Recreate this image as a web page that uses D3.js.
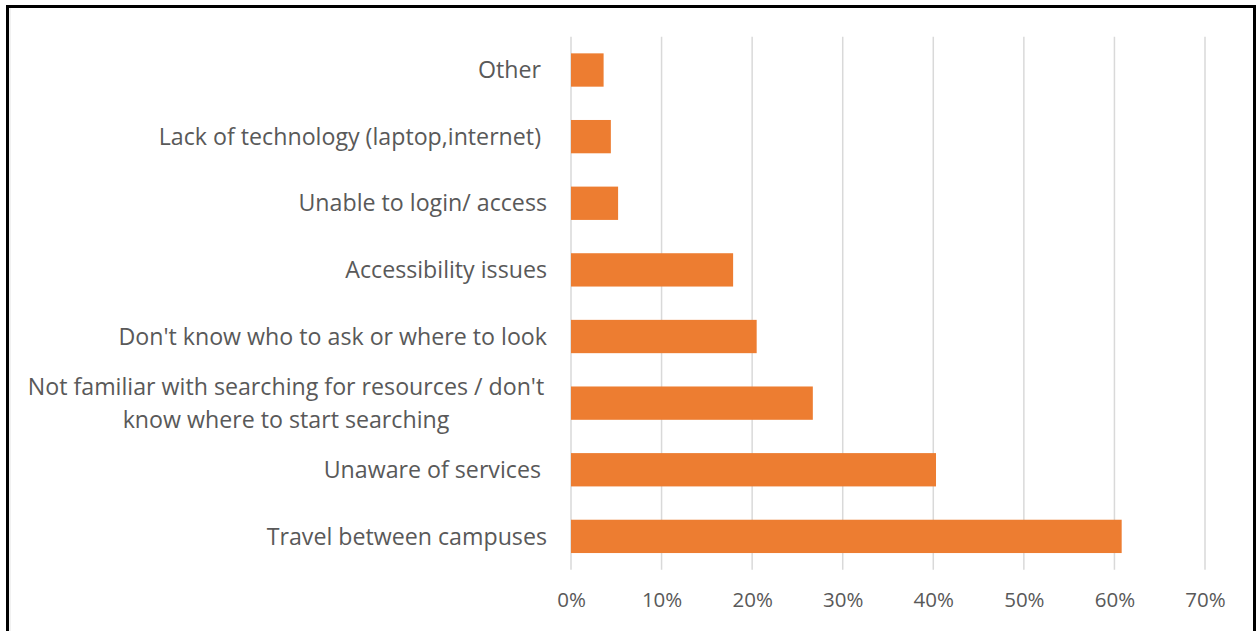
<!DOCTYPE html>
<html>
<head>
<meta charset="utf-8">
<script src="https://cdn.jsdelivr.net/npm/d3@7"></script>
<style>
  body { margin: 0; background: #fff; }
  svg { display: block; }
</style>
</head>
<body>
<script>
var width = 1257;
var height = 631;

// data, top to bottom as shown
var categories = [
  "Other ",
  "Lack of technology (laptop,internet) ",
  "Unable to login/ access",
  "Accessibility issues",
  "Don't know who to ask or where to look",
  "Not familiar with searching for resources / don't know where to start searching",
  "Unaware of services ",
  "Travel between campuses"
];
var values = [0.036, 0.044, 0.052, 0.179, 0.205, 0.267, 0.403, 0.608];
var tickValues = [0, 0.1, 0.2, 0.3, 0.4, 0.5, 0.6, 0.7];

// plot area (note: "top" is taken by window.top)
var plotLeft = 571, plotRight = 1205, plotTop = 36.7, plotBottom = 569.7;
var textColor = "#595959";
var fontFamily = "'Open Sans', sans-serif";

var svg = d3.select("body").append("svg")
    .attr("width", width)
    .attr("height", height);

// frame
svg.append("rect")
    .attr("x", 7.5).attr("y", 6.5)
    .attr("width", 1247).attr("height", 700)
    .attr("fill", "#fff")
    .attr("stroke", "#000")
    .attr("stroke-width", 3);
svg.append("line")
    .attr("x1", 10).attr("x2", 10).attr("y1", 8).attr("y2", height)
    .attr("stroke", "#e3e3e3").attr("stroke-width", 1);

var x = d3.scaleLinear().domain([0, 0.7]).range([plotLeft, plotRight]);
var y = d3.scaleBand().domain(categories).range([plotTop, plotBottom]).paddingInner(0.5).paddingOuter(0.25);

// gridlines
svg.append("g").selectAll("line")
  .data(tickValues)
.enter().append("line")
  .attr("x1", function(d) { return x(d); })
  .attr("x2", function(d) { return x(d); })
  .attr("y1", plotTop)
  .attr("y2", plotBottom)
  .attr("stroke", "#d9d9d9")
  .attr("stroke-width", 1.5);

// bars
svg.append("g").selectAll("rect")
  .data(values)
.enter().append("rect")
  .attr("x", x(0))
  .attr("y", function(d, i) { return y(categories[i]); })
  .attr("width", function(d) { return x(d) - x(0); })
  .attr("height", y.bandwidth())
  .attr("fill", "#ed7d31");

// x axis labels
var xAxis = d3.axisBottom(x)
    .tickValues(tickValues)
    .tickFormat(d3.format(".0%"))
    .tickSize(0)
    .tickPadding(0);

var gx = svg.append("g")
    .attr("transform", "translate(0," + 592 + ")")
    .call(xAxis);
gx.select(".domain").remove();
gx.selectAll("text")
    .attr("dy", "0.71em")
    .attr("fill", textColor)
    .style("font-family", fontFamily)
    .style("font-size", "20.5px");

// category labels, wrapped like Excel
var labelRight = 547, wrapCenter = 286, maxW = 540;
var lineH = 33;

var labels = svg.append("g").selectAll("text")
  .data(categories)
.enter().append("text")
  .attr("fill", textColor)
  .style("font-family", fontFamily)
  .style("font-size", "23.2px")
  .style("white-space", "pre");

labels.each(function(d) {
  var t = d3.select(this);
  var words = d.split(" ");
  var lines = [], cur = "";
  var probe = t.append("tspan");
  words.forEach(function(w) {
    var test = cur ? cur + " " + w : w;
    probe.text(test);
    if (probe.node().getComputedTextLength() > maxW && cur) {
      lines.push(cur);
      cur = w;
    } else {
      cur = test;
    }
  });
  lines.push(cur);
  probe.remove();

  var cy = y(d) + y.bandwidth() / 2;
  var multi = lines.length > 1;
  var ax = multi ? wrapCenter : labelRight;
  t.attr("text-anchor", multi ? "middle" : "end");
  lines.forEach(function(l, i) {
    t.append("tspan")
      .attr("x", ax)
      .attr("y", cy + (i - (lines.length - 1) / 2) * lineH)
      .attr("dy", "0.35em")
      .text(l);
  });
});
</script>
</body>
</html>
